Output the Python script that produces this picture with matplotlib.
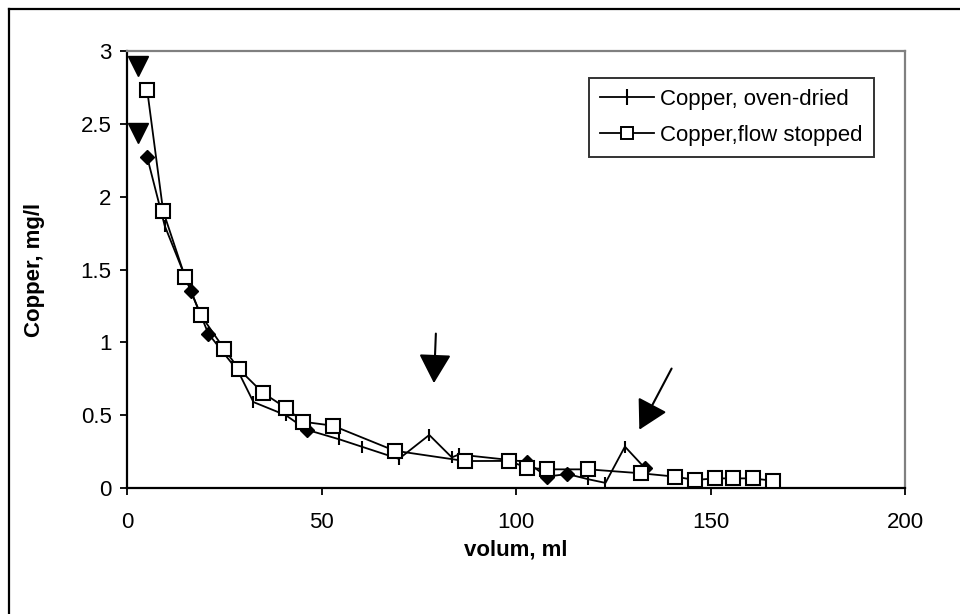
import matplotlib
matplotlib.use("Agg")
import matplotlib.pyplot as plt
from matplotlib.lines import Line2D

plt.rcParams["font.family"] = ["Liberation Sans", "DejaVu Sans"]

# oven-dried series (| markers, a few points drawn as diamonds)
oven_x = [5.2, 9.7, 16.4, 20.9, 28.6, 32.5, 40.8, 46.2, 54.6, 60.3, 69.9, 77.7,
          83.5, 85.3, 102.7, 107.9, 113.2, 118.6, 123.0, 128.0, 133.2]
oven_y = [2.27, 1.80, 1.355, 1.06, 0.80, 0.59, 0.50, 0.40, 0.334, 0.284, 0.20, 0.364,
          0.21, 0.23, 0.18, 0.078, 0.096, 0.06, 0.035, 0.284, 0.135]
oven_diamond = [5.2, 16.4, 20.9, 46.2, 102.7, 107.9, 113.2, 133.2]

# flow stopped series (open squares)
flow_x = [5.2, 9.3, 14.9, 18.9, 25.0, 28.8, 34.9, 41.0, 45.2, 52.9, 68.8, 86.9,
          98.2, 102.7, 107.9, 118.6, 132.1, 140.9, 146.0, 151.2, 155.7, 160.8, 166.0]
flow_y = [2.73, 1.90, 1.45, 1.19, 0.954, 0.815, 0.654, 0.547, 0.455, 0.428, 0.256, 0.185,
          0.186, 0.140, 0.128, 0.128, 0.101, 0.078, 0.055, 0.066, 0.066, 0.066, 0.05]

# arrowheads marking the first samples
tri_x = [2.8, 2.8]
tri_y = [2.90, 2.44]

# arrows (tail -> tip) in data units
arrows = [((79.4, 1.06), (78.9, 0.72)), ((140.0, 0.82), (131.7, 0.40))]

xticks = [0, 50, 100, 150, 200]
xtick_labels = ["0", "50", "100", "150", "200"]
yticks = [0, 0.5, 1, 1.5, 2, 2.5, 3]
ytick_labels = ["0", "0.5", "1", "1.5", "2", "2.5", "3"]

fig = plt.figure(figsize=(9.6, 6.14), dpi=100)
ax = fig.add_axes([127 / 960, 1 - 488 / 614, 778 / 960, 437 / 614])

ax.plot(oven_x, oven_y, color="black", lw=1.3, marker="|", ms=9, mew=1.5,
        label="Copper, oven-dried", zorder=3)
dx = [x for x in oven_x if x in oven_diamond]
dy = [y for x, y in zip(oven_x, oven_y) if x in oven_diamond]
ax.plot(dx, dy, ls="none", marker="D", ms=7.5, color="black", zorder=4)

ax.plot(flow_x, flow_y, color="black", lw=1.3, marker="s", ms=9.5, mew=1.5,
        mfc="white", mec="black", label="Copper,flow stopped", zorder=5)

ax.plot(tri_x, tri_y, ls="none", marker="v", ms=14, color="black", zorder=6)

for (tail, tip) in arrows:
    ax.annotate("", xy=tip, xytext=tail,
                arrowprops=dict(arrowstyle="-|>,head_length=0.9,head_width=0.5",
                                mutation_scale=20, lw=1.5, color="black",
                                shrinkA=0, shrinkB=0))

ax.set_xlim(0, 200)
ax.set_ylim(0, 3)
ax.set_xticks(xticks)
ax.set_xticklabels(xtick_labels)
ax.set_yticks(yticks)
ax.set_yticklabels(ytick_labels)
ax.tick_params(direction="out", length=5, width=1.3, labelsize=16, color="black")
ax.tick_params(axis="x", pad=12)
ax.tick_params(axis="y", pad=6)

for s in ["left", "bottom"]:
    ax.spines[s].set_color("black")
    ax.spines[s].set_linewidth(1.6)
for s in ["top", "right"]:
    ax.spines[s].set_color("#808080")
    ax.spines[s].set_linewidth(1.6)

ax.set_xlabel("volum, ml", fontsize=16, fontweight="bold", labelpad=5)
ax.set_ylabel("Copper, mg/l", fontsize=16, fontweight="bold", labelpad=26)

leg_handles = [
    Line2D([], [], color="black", lw=1.3, marker="|", ms=12, mew=1.5),
    Line2D([], [], color="black", lw=1.3, marker="s", ms=9, mew=1.4, mfc="white"),
]
leg = ax.legend(leg_handles, ["Copper, oven-dried", "Copper,flow stopped"],
                loc="upper right", bbox_to_anchor=(0.960, 0.938), borderaxespad=0,
                fontsize=16, frameon=True, fancybox=False, edgecolor="black",
                handlelength=2.4, handletextpad=0.3, labelspacing=0.65,
                borderpad=0.5)
leg.get_frame().set_linewidth(1.4)

# outer chart border (only left and top edges fall inside the image)
fig.add_artist(Line2D([8.5 / 960, 8.5 / 960], [0, 1 - 9 / 614], color="black",
                      lw=1.6, transform=fig.transFigure))
fig.add_artist(Line2D([8.5 / 960, 1], [1 - 9 / 614, 1 - 9 / 614], color="black",
                      lw=1.6, transform=fig.transFigure))

fig.savefig("out.png", dpi=100)
